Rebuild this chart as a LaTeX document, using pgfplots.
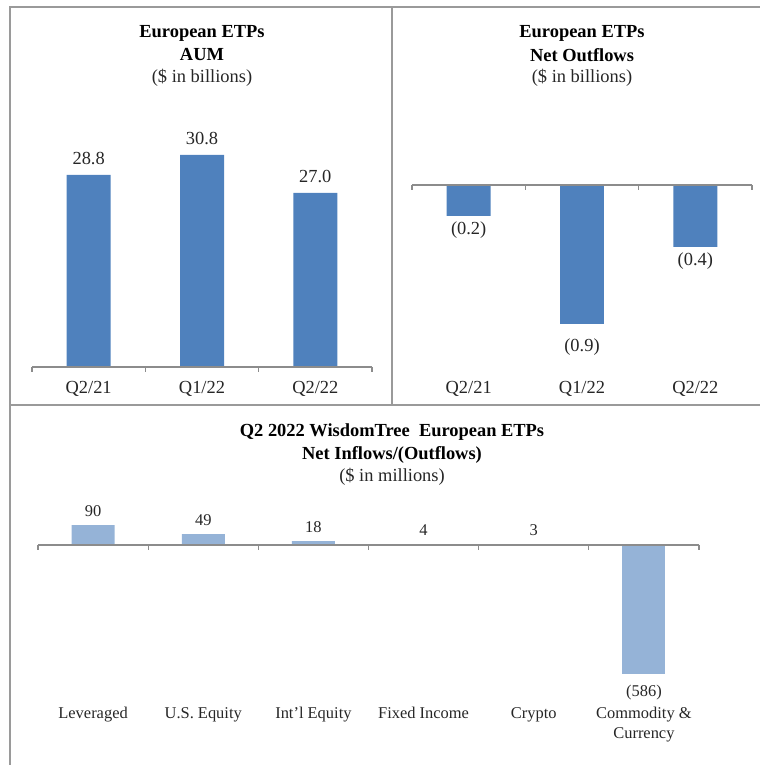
\documentclass[border=0pt]{standalone}
\usepackage{pgfplots}
\pgfplotsset{compat=1.18}
\usepackage{fontspec}
\setmainfont{Liberation Serif}
\definecolor{barA}{HTML}{4F81BD}
\definecolor{barB}{HTML}{95B3D7}
\definecolor{frame}{HTML}{9A9A9A}
\definecolor{axl}{HTML}{8C8C8C}
\definecolor{txt}{HTML}{262626}
\newcommand{\fa}{\fontsize{18.5}{22}\selectfont}
\newcommand{\fb}{\fontsize{16.5}{19.5}\selectfont}
\pgfplotsset{
  panel/.style={
    scale only axis,
    axis line style={draw=none},
    ytick=\empty,
    major tick length=0pt,
    xtick style={draw=none},
    ybar, bar shift=0pt,
    point meta=explicit symbolic,
    nodes near coords,
    clip=false,
    xticklabel style={text=txt, anchor=north, align=center},
    every node near coord/.append style={text=txt},
  },
}
\begin{document}
\begin{tikzpicture}[x=1bp,y=1bp]
\useasboundingbox (0,0) rectangle (760,765);
% frame
\draw[frame, line width=2bp] (10,0) -- (10,758) -- (760,758);
\draw[frame, line width=2bp] (392,758) -- (392,360);
\draw[frame, line width=2bp] (10,360) -- (760,360);
% titles
\node[font=\fa\bfseries] at (202,732) {European ETPs};
\node[font=\fa\bfseries] at (202,710) {AUM};
\node[font=\fa, text=txt] at (202,687) {(\$ in billions)};
\node[font=\fa\bfseries] at (582,732) {European ETPs};
\node[font=\fa\bfseries] at (582,710) {Net Outflows};
\node[font=\fa, text=txt] at (582,687) {(\$ in billions)};
\node[font=\fa\bfseries] at (392,333) {Q2 2022 WisdomTree\ \ European ETPs};
\node[font=\fa\bfseries] at (392,310) {Net Inflows/(Outflows)};
\node[font=\fa, text=txt] at (392,288) {(\$ in millions)};

% top-left: AUM
\begin{axis}[panel,
  at={(32bp,398bp)}, anchor=south west,
  width=340bp, height=227bp,
  xmin=-0.5, xmax=2.5, ymin=9.6, ymax=32.3,
  bar width=44bp,
  xtick={0,1,2}, xticklabels={Q2/21,Q1/22,Q2/22},
  xticklabel style={font=\fa, yshift=-11bp},
  every node near coord/.append style={font=\fa, inner ysep=10bp},
]
\addplot[fill=barA, draw=none] coordinates {(0,28.8) [28.8] (1,30.8) [30.8] (2,27.0) [27.0]};
\draw[axl, line width=1.5bp] (axis cs:-0.5,9.6) -- (axis cs:2.5,9.6);
\pgfplotsinvokeforeach{-0.5,0.5,1.5,2.5}{\draw[axl, line width=1.2bp] (axis cs:#1,9.6) -- ++(0pt,-5bp);}
\end{axis}

% top-right: net outflows
\begin{axis}[panel,
  at={(412bp,398bp)}, anchor=south west,
  width=340bp, height=227bp,
  xmin=-0.5, xmax=2.5, ymin=-1.1742, ymax=0.2903,
  bar width=44bp,
  xtick={0,1,2}, xticklabels={Q2/21,Q1/22,Q2/22},
  xticklabel style={font=\fa, yshift=-11bp},
  nodes near coords align=below,
  every node near coord/.append style={font=\fa, inner ysep=6bp},
]
\addplot[fill=barA, draw=none] coordinates {(0,-0.2) [(0.2)] (2,-0.4) [(0.4)]};
\addplot[fill=barA, draw=none, every node near coord/.append style={inner ysep=14bp}] coordinates {(1,-0.9) [(0.9)]};
\draw[axl, line width=1.5bp] (axis cs:-0.5,0) -- (axis cs:2.5,0);
\pgfplotsinvokeforeach{-0.5,0.5,1.5,2.5}{\draw[axl, line width=1.2bp] (axis cs:#1,0) -- ++(0pt,-5bp);}
\end{axis}

% bottom: WisdomTree flows
\begin{axis}[panel,
  at={(38bp,72bp)}, anchor=south west,
  width=661bp, height=188bp,
  xmin=-0.5, xmax=5.5, ymin=-672.7, ymax=181.8,
  bar width=43bp,
  xtick={0,1,2,3,4,5},
  xticklabels={Leveraged,U.S. Equity,Int’l Equity,Fixed Income,Crypto,{Commodity \&\\Currency}},
  xticklabel style={font=\fb, yshift=-11bp},
  every node near coord/.append style={font=\fb, inner ysep=8bp},
]
\addplot[fill=barB, draw=none, nodes near coords align=above] coordinates {(0,90) [90] (1,49) [49] (2,18) [18] (3,4) [4] (4,3) [3]};
\addplot[fill=barB, draw=none, nodes near coords align=below, every node near coord/.append style={inner ysep=11bp}] coordinates {(5,-586) [(586)]};
\draw[axl, line width=1.5bp] (axis cs:-0.5,0) -- (axis cs:5.5,0);
\pgfplotsinvokeforeach{-0.5,0.5,1.5,2.5,3.5,4.5,5.5}{\draw[axl, line width=1.2bp] (axis cs:#1,0) -- ++(0pt,-5bp);}
\end{axis}
\end{tikzpicture}
\end{document}
